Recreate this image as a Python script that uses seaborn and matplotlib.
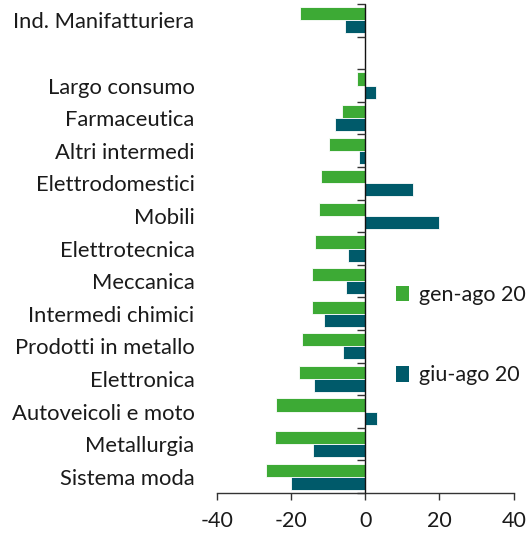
import numpy as np
import pandas as pd
import matplotlib
matplotlib.use("Agg")
import matplotlib.pyplot as plt
import matplotlib.markers as mmarkers
import seaborn as sns
from matplotlib.patches import Patch

categories = ["Ind. Manifatturiera", " ", "Largo consumo", "Farmaceutica", "Altri intermedi",
              "Elettrodomestici", "Mobili", "Elettrotecnica", "Meccanica", "Intermedi chimici",
              "Prodotti in metallo", "Elettronica", "Autoveicoli e moto", "Metallurgia", "Sistema moda"]
gen_ago = [-17.6, np.nan, -2.2, -6.2, -9.8, -11.9, -12.4, -13.5, -14.3, -14.4, -17.1, -17.7, -24.1, -24.3, -26.6]
giu_ago = [-5.4, np.nan, 2.9, -8.1, -1.6, 12.9, 19.8, -4.7, -5.1, -11.2, -6.0, -13.8, 3.1, -14.1, -20.0]
series_names = ["gen-ago 20", "giu-ago 20"]
colors = ["#3DAA35", "#005A6A"]
xticks = [-40, -20, 0, 20, 40]

df = pd.DataFrame({
    "cat": categories * 2,
    "val": gen_ago + giu_ago,
    "serie": [series_names[0]] * len(categories) + [series_names[1]] * len(categories),
})

sns.set_theme(style="ticks")
plt.rcParams["font.family"] = ["Lato", "DejaVu Sans"]

fig = plt.figure(figsize=(5.29, 5.40), dpi=100)
rect = [216.7 / 529, 1 - 493 / 540, (513.7 - 216.7) / 529, (493 - 4) / 540]
ax = fig.add_axes(rect)

sns.barplot(data=df, x="val", y="cat", hue="serie", order=categories, hue_order=series_names,
            palette=colors, orient="h", width=0.8, edgecolor="white", linewidth=0.6,
            saturation=1, ax=ax, legend=False)

ax.set_xlim(-40, 40)
ax.set_ylim(len(categories) - 0.5, -0.5)
ax.set_xticks(xticks)
ax.set_xticklabels([str(t) for t in xticks])
ax.set_xlabel("")
ax.set_ylabel("")

for s in ["top", "right", "left"]:
    ax.spines[s].set_visible(False)
ax.spines["bottom"].set_color("#333333")
ax.spines["bottom"].set_linewidth(1.0)

ax.tick_params(axis="x", direction="out", length=5, width=1, color="#333333",
               labelsize=15.5, labelcolor="#1a1a1a", pad=8, bottom=True)
ax.tick_params(axis="y", length=0, labelsize=15.8, labelcolor="#1a1a1a", pad=16, left=False)

# zero line with category-boundary ticks
boundaries = np.arange(len(categories) + 1) - 0.5
ax.axvline(0, color="#111111", linewidth=1.0, zorder=10, clip_on=False)
ax.plot(np.zeros_like(boundaries), boundaries, linestyle="none", marker=mmarkers.TICKLEFT,
        markersize=6, markeredgewidth=1.0, color="#333333", zorder=10, clip_on=False)

handles = [Patch(facecolor=c, edgecolor="none") for c in colors]
fig.legend(handles, series_names, loc="upper left", bbox_to_anchor=(396 / 529, 1 - 285 / 540),
           frameon=False, fontsize=15.5, handlelength=0.6, handleheight=0.75, handletextpad=0.45,
           labelspacing=2.8, borderpad=0, borderaxespad=0, labelcolor="#1a1a1a")

fig.savefig("out.png", dpi=100)
